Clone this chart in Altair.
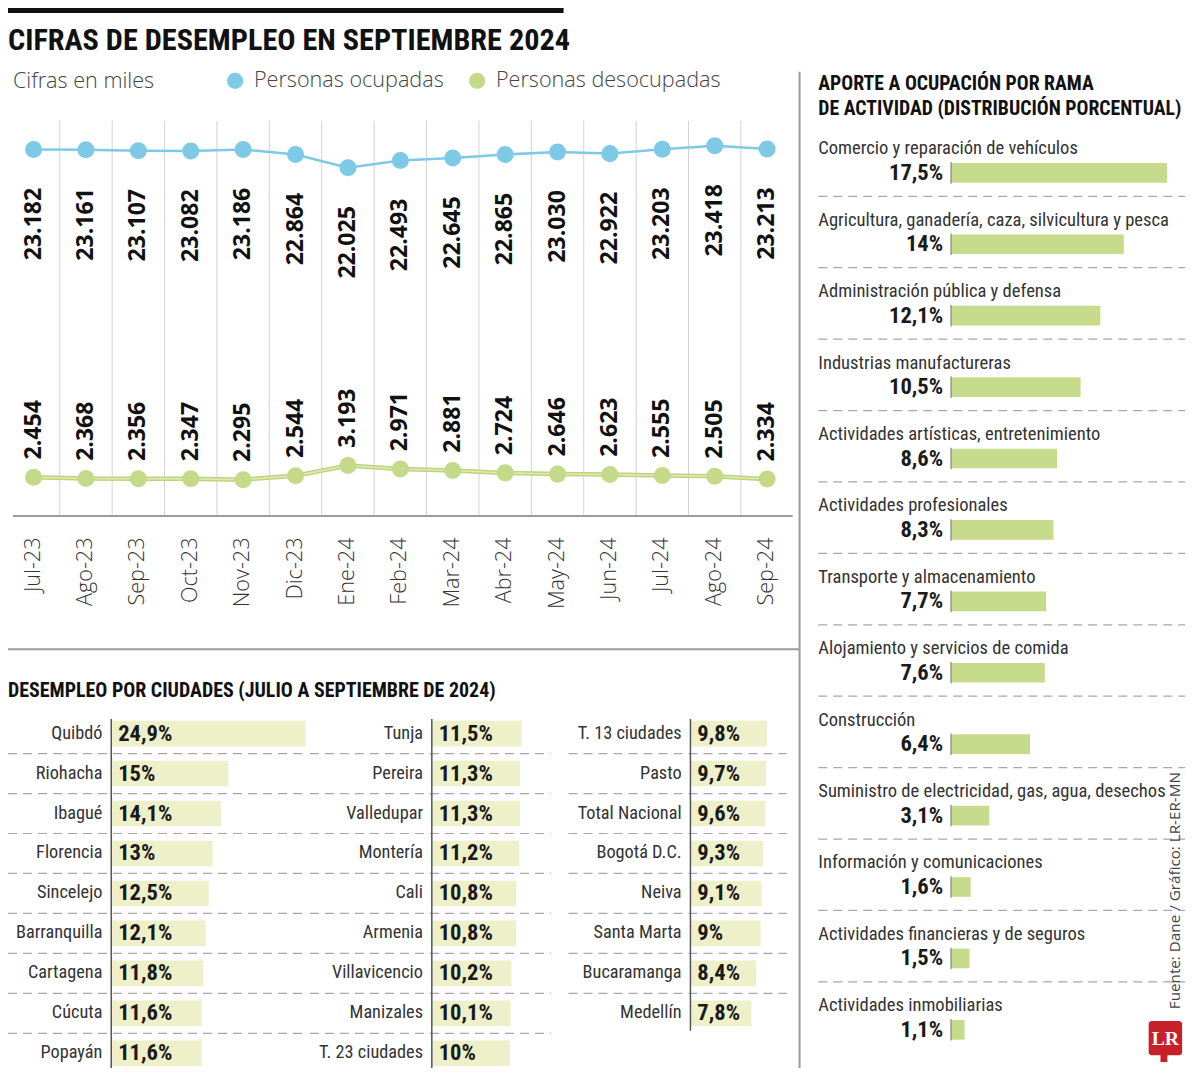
import altair as alt
import pandas as pd

# ---------------- canvas helpers ----------------
W, H = 1180, 1060
SX, SY = W / 1200, H / 1081
FS = (SX + SY) / 2


def px(v):
    return round(v * SX, 2)


def py(v):
    return round(v * SY, 2)


def fs(v):
    return round(v * FS, 2)


COND = "Noto Sans Condensed, Roboto Condensed, Liberation Sans Narrow, DejaVu Sans Condensed, sans-serif"
SANS = "Open Sans, Noto Sans, sans-serif"
SERIF = "Liberation Serif, DejaVu Serif, serif"

BLUE = "#7ecae6"
GREEN = "#c4da89"
BAR_CITY = "#eef0c9"
BAR_RAMA = "#c6db8c"

# ---------------- data ----------------
TITLE = "CIFRAS DE DESEMPLEO EN SEPTIEMBRE 2024"
UNITS = "Cifras en miles"
SERIES = ["Personas ocupadas", "Personas desocupadas"]
months = ["Jul-23", "Ago-23", "Sep-23", "Oct-23", "Nov-23", "Dic-23", "Ene-24", "Feb-24",
          "Mar-24", "Abr-24", "May-24", "Jun-24", "Jul-24", "Ago-24", "Sep-24"]
ocupadas = [23182, 23161, 23107, 23082, 23186, 22864, 22025, 22493,
            22645, 22865, 23030, 22922, 23203, 23418, 23213]
desocupadas = [2454, 2368, 2356, 2347, 2295, 2544, 3193, 2971,
               2881, 2724, 2646, 2623, 2555, 2505, 2334]

CITY_TITLE = "DESEMPLEO POR CIUDADES (JULIO A SEPTIEMBRE DE 2024)"
cities_1 = ["Quibdó", "Riohacha", "Ibagué", "Florencia", "Sincelejo", "Barranquilla",
            "Cartagena", "Cúcuta", "Popayán"]
rates_1 = [24.9, 15, 14.1, 13, 12.5, 12.1, 11.8, 11.6, 11.6]
cities_2 = ["Tunja", "Pereira", "Valledupar", "Montería", "Cali", "Armenia",
            "Villavicencio", "Manizales", "T. 23 ciudades"]
rates_2 = [11.5, 11.3, 11.3, 11.2, 10.8, 10.8, 10.2, 10.1, 10]
cities_3 = ["T. 13 ciudades", "Pasto", "Total Nacional", "Bogotá D.C.", "Neiva",
            "Santa Marta", "Bucaramanga", "Medellín"]
rates_3 = [9.8, 9.7, 9.6, 9.3, 9.1, 9, 8.4, 7.8]

RAMA_TITLE_1 = "APORTE A OCUPACIÓN POR RAMA"
RAMA_TITLE_2 = "DE ACTIVIDAD (DISTRIBUCIÓN PORCENTUAL)"
ramas = ["Comercio y reparación de vehículos",
         "Agricultura, ganadería, caza, silvicultura y pesca",
         "Administración pública y defensa",
         "Industrias manufactureras",
         "Actividades artísticas, entretenimiento",
         "Actividades profesionales",
         "Transporte y almacenamiento",
         "Alojamiento y servicios de comida",
         "Construcción",
         "Suministro de electricidad, gas, agua, desechos",
         "Información y comunicaciones",
         "Actividades financieras y de seguros",
         "Actividades inmobiliarias"]
shares = [17.5, 14, 12.1, 10.5, 8.6, 8.3, 7.7, 7.6, 6.4, 3.1, 1.6, 1.5, 1.1]

SOURCE = "Fuente: Dane / Gráfico: LR-ER-MN"
LOGO = "LR"


def miles(v):
    return f"{v:,}".replace(",", ".")


def pct(v):
    s = f"{v:.1f}"
    if s.endswith(".0"):
        s = s[:-2]
    return s.replace(".", ",") + "%"


def one(t=""):
    return pd.DataFrame({"t": [t]})


def text_at(t, x, y, size, font=COND, weight="normal", color="#222", align="left",
            baseline="middle", angle=0):
    return alt.Chart(one(t)).mark_text(
        align=align, baseline=baseline, font=font, fontSize=size, fontWeight=weight,
        color=color, angle=angle
    ).encode(x=alt.value(px(x)), y=alt.value(py(y)), text="t:N")


def rule_at(x0, x1, y0, y1, color, width, dash=None):
    kw = dict(color=color, strokeWidth=width)
    if dash:
        kw["strokeDash"] = dash
    return alt.Chart(one()).mark_rule(**kw).encode(
        x=alt.value(px(x0)), x2=alt.value(px(x1)), y=alt.value(py(y0)), y2=alt.value(py(y1)))


layers = []

# ---------------- header ----------------
layers.append(alt.Chart(one()).mark_rect(color="#111").encode(
    x=alt.value(px(0)), x2=alt.value(px(565)), y=alt.value(py(0)), y2=alt.value(py(5))))
layers.append(text_at(TITLE, 0, 34, fs(30.8), weight="bold", color="#111"))
layers.append(text_at(UNITS, 5, 75, fs(22), font=SANS, weight=300, color="#444"))

# ---------------- line chart ----------------
step = (772 - 26) / 14
x_mes = alt.Scale(type="band", domain=months, range=[px(26 - step / 2), px(772 + step / 2)],
                  paddingInner=0, paddingOuter=0)
y_val = alt.Scale(type="linear", domain=[0, 25000], range=[py(518), py(115)], nice=False, zero=True)


def X_mes(**kw):
    return alt.X("mes:N", scale=x_mes, axis=None, **kw)


Y_val = alt.Y("valor:Q", scale=y_val, axis=None)

df_ocu = pd.DataFrame({"i": range(len(months)), "mes": months, "serie": SERIES[0],
                       "valor": ocupadas, "etiqueta": [miles(v) for v in ocupadas]})
df_des = pd.DataFrame({"i": range(len(months)), "mes": months, "serie": SERIES[1],
                       "valor": desocupadas, "etiqueta": [miles(v) for v in desocupadas]})
df_all = pd.concat([df_ocu, df_des], ignore_index=True)

layers.append(alt.Chart(pd.DataFrame({"mes": months[1:]})).mark_rule(
    color="#d2d2d2", strokeWidth=1).encode(
    x=X_mes(bandPosition=0), y=alt.value(py(115)), y2=alt.value(py(518))))
layers.append(alt.Chart(one()).mark_rule(color="#9b9b9b", strokeWidth=2).encode(
    x=alt.value(px(5)), x2=alt.value(px(798)),
    y=alt.YDatum(0, type="quantitative", scale=y_val, axis=None)))

layers.append(alt.Chart(df_ocu).mark_line(color=BLUE, strokeWidth=2.5).encode(
    x=X_mes(), y=Y_val, order="i:Q"))
layers.append(alt.Chart(df_des).mark_line(color="#bcd47e", strokeWidth=4.5).encode(
    x=X_mes(), y=Y_val, order="i:Q"))
layers.append(alt.Chart(df_des).mark_line(color="#e1eabb", strokeWidth=1.5).encode(
    x=X_mes(), y=Y_val, order="i:Q"))

layers.append(alt.Chart(df_all).mark_circle(size=290, opacity=1).encode(
    x=X_mes(), y=Y_val,
    color=alt.Color("serie:N", scale=alt.Scale(domain=SERIES, range=[BLUE, GREEN]),
                    legend=alt.Legend(orient="none", legendX=px(220), legendY=py(63),
                                      direction="horizontal", title=None, padding=0,
                                      symbolType="circle", symbolSize=260,
                                      symbolStrokeWidth=0, symbolOpacity=1,
                                      labelFont=SANS, labelFontSize=fs(22),
                                      labelFontWeight=300, labelColor="#444",
                                      labelOffset=8, columnPadding=22, labelLimit=400))))

layers.append(alt.Chart(df_ocu).mark_text(
    angle=270, align="right", baseline="middle", dx=-py(39), font=SANS, fontSize=fs(23.5),
    fontWeight="bold", color="#111").encode(x=X_mes(), y=Y_val, text="etiqueta:N"))
layers.append(alt.Chart(df_des).mark_text(
    angle=270, align="left", baseline="middle", dx=py(18), font=SANS, fontSize=fs(23.5),
    fontWeight="bold", color="#111").encode(x=X_mes(), y=Y_val, text="etiqueta:N"))

layers.append(alt.Chart(pd.DataFrame({"mes": months})).mark_text(
    angle=270, align="right", baseline="middle", font=SANS, fontSize=fs(22),
    fontWeight=300, color="#333").encode(x=X_mes(), y=alt.value(py(540)), text="mes:N"))

# separators
layers.append(rule_at(0, 805, 654, 654, "#9b9b9b", 2))
layers.append(rule_at(805, 805, 65, 1081, "#9b9b9b", 2))

# ---------------- cities ----------------
layers.append(text_at(CITY_TITLE, 0, 697, fs(20.3), weight="bold", color="#111"))

CITY_TOP = 719.6
CITY_STEP = 40.75
PX_PCT = 7.93


def city_column(names, rates, x0, sep0, sep1, axis_bottom):
    n = len(names)
    rng = [py(CITY_TOP), py(CITY_TOP + n * CITY_STEP)]
    ys_bar = alt.Scale(type="band", domain=names, range=rng, paddingInner=0.36, paddingOuter=0.18)
    ys_row = alt.Scale(type="band", domain=names, range=rng, paddingInner=0, paddingOuter=0)
    xs = alt.Scale(type="linear", domain=[0, 25], range=[px(x0), px(x0 + 25 * PX_PCT)],
                   nice=False, zero=True)
    df = pd.DataFrame({"ciudad": names, "tasa": rates, "etiqueta": [pct(r) for r in rates]})
    x0d = alt.XDatum(0, type="quantitative", scale=xs, axis=None)
    out = []
    out.append(alt.Chart(pd.DataFrame({"ciudad": names[1:]})).mark_rule(
        color="#a8a8a8", strokeWidth=1.2, strokeDash=[9, 6]).encode(
        y=alt.Y("ciudad:N", scale=ys_row, axis=None, bandPosition=0),
        x=alt.value(px(sep0)), x2=alt.value(px(sep1))))
    out.append(alt.Chart(df).mark_bar(color=BAR_CITY).encode(
        x=alt.X("tasa:Q", scale=xs, axis=None), y=alt.Y("ciudad:N", scale=ys_bar, axis=None)))
    out.append(alt.Chart(one()).mark_rule(color="#555", strokeWidth=1.5).encode(
        x=x0d, y=alt.value(py(725)), y2=alt.value(py(axis_bottom))))
    out.append(alt.Chart(df).mark_text(
        align="left", baseline="middle", dx=px(7), font=COND, fontSize=fs(23),
        fontWeight="bold", color="#1a1a1a").encode(
        x=x0d, y=alt.Y("ciudad:N", scale=ys_row, axis=None), text="etiqueta:N"))
    out.append(alt.Chart(df).mark_text(
        align="right", baseline="middle", dx=-px(9), font=COND, fontSize=fs(18.6),
        color="#333").encode(
        x=x0d, y=alt.Y("ciudad:N", scale=ys_row, axis=None), text="ciudad:N"))
    return out


layers += city_column(cities_1, rates_1, 105, 0, 302, 1081)
layers += city_column(cities_2, rates_2, 431, 307, 552, 1081)
layers += city_column(cities_3, rates_3, 694, 570, 792, 1043)

# ---------------- right panel ----------------
layers.append(text_at(RAMA_TITLE_1, 824, 77, fs(20.1), weight="bold", color="#111"))
layers.append(text_at(RAMA_TITLE_2, 824, 103, fs(20.1), weight="bold", color="#111"))

R_TOP = 119.2
R_STEP = 72.83
R_PX = 12.55
nr = len(ramas)
yr_row = alt.Scale(type="band", domain=ramas, range=[py(R_TOP), py(R_TOP + nr * R_STEP)],
                   paddingInner=0, paddingOuter=0)
yr_bar = alt.Scale(type="band", domain=ramas,
                   range=[py(R_TOP + 12.5), py(R_TOP + 12.5 + nr * R_STEP)],
                   paddingInner=0.725, paddingOuter=0.3625)
xr = alt.Scale(type="linear", domain=[0, 20], range=[px(959), px(959 + 20 * R_PX)],
               nice=False, zero=True)
df_r = pd.DataFrame({"rama": ramas, "share": shares, "etiqueta": [pct(s) for s in shares]})
xr0 = alt.XDatum(0, type="quantitative", scale=xr, axis=None)

layers.append(alt.Chart(pd.DataFrame({"rama": ramas[1:]})).mark_rule(
    color="#a8a8a8", strokeWidth=1.2, strokeDash=[9, 6]).encode(
    y=alt.Y("rama:N", scale=yr_row, axis=None, bandPosition=0),
    x=alt.value(px(824)), x2=alt.value(px(1197))))
layers.append(alt.Chart(df_r).mark_bar(color=BAR_RAMA).encode(
    x=alt.X("share:Q", scale=xr, axis=None), y=alt.Y("rama:N", scale=yr_bar, axis=None)))
layers.append(alt.Chart(df_r).mark_tick(orient="vertical", size=py(22), thickness=1.5,
                                        color="#777").encode(
    x=xr0, y=alt.Y("rama:N", scale=yr_bar, axis=None)))
layers.append(alt.Chart(df_r).mark_text(
    align="left", baseline="middle", dy=-py(12.5), font=COND, fontSize=fs(18.9),
    color="#333").encode(
    x=alt.value(px(824)), y=alt.Y("rama:N", scale=yr_row, axis=None), text="rama:N"))
layers.append(alt.Chart(df_r).mark_text(
    align="right", baseline="middle", dy=py(12.5), dx=-px(8), font=COND, fontSize=fs(23),
    fontWeight="bold", color="#1a1a1a").encode(
    x=xr0, y=alt.Y("rama:N", scale=yr_row, axis=None), text="etiqueta:N"))

# ---------------- source and logo ----------------
layers.append(text_at(SOURCE, 1187, 1021, fs(15.5), font=SANS, color="#444", angle=270))
layers.append(alt.Chart(one()).mark_rect(color="#c8202a", cornerRadius=3).encode(
    x=alt.value(px(1160)), x2=alt.value(px(1194)), y=alt.value(py(1033)), y2=alt.value(py(1068))))
layers.append(alt.Chart(one()).mark_rect(color="#c8202a").encode(
    x=alt.value(px(1172)), x2=alt.value(px(1179)), y=alt.value(py(1066)), y2=alt.value(py(1075))))
layers.append(text_at(LOGO, 1177, 1051, fs(20), font=SERIF, weight="bold", color="white",
                      align="center"))

chart = alt.layer(*layers).resolve_scale(
    x="independent", y="independent"
).properties(
    width=W, height=H, padding=0, background="white",
    autosize=alt.AutoSizeParams(type="none")
).configure_view(stroke=None)

chart.save("out.html", embed_options={"renderer": "svg", "actions": False})
